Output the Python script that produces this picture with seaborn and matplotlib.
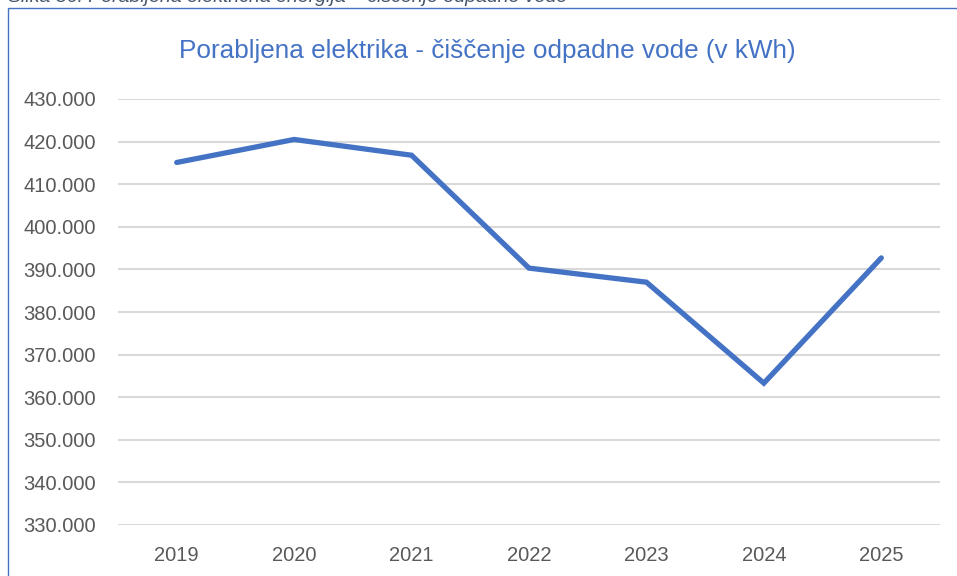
import pandas as pd
import seaborn as sns
import matplotlib.pyplot as plt
from matplotlib.patches import Rectangle
from matplotlib.ticker import FuncFormatter, MultipleLocator

sns.set_theme(style="white")
plt.rcParams['font.family'] = ['Liberation Sans', 'DejaVu Sans']

YEARS = ['2019', '2020', '2021', '2022', '2023', '2024', '2025']
ENERGY_KWH = [415100, 420500, 416800, 390300, 387000, 363300, 392700]

LINE_COLOR = '#4472C4'
TEXT_COLOR = '#595959'
GRID_COLOR = '#D9D9D9'

W, H = 957, 576
fig = plt.figure(figsize=(W / 100, H / 100), dpi=100)
ax = fig.add_axes([118 / W, 1 - 525 / H, (940 - 118) / W, (525 - 99) / H])

df = pd.DataFrame({'year': YEARS, 'kwh': ENERGY_KWH})
sns.lineplot(data=df, x='year', y='kwh', ax=ax, color=LINE_COLOR,
             linewidth=3.8, solid_capstyle='round', solid_joinstyle='miter')

ax.set_xlim(-0.5, len(YEARS) - 0.5)
ax.set_ylim(330000, 430000)
ax.yaxis.set_major_locator(MultipleLocator(10000))
ax.yaxis.set_major_formatter(FuncFormatter(lambda v, p: f"{v:,.0f}".replace(',', '.')))
ax.grid(axis='y', color=GRID_COLOR, linewidth=1.5)
ax.set_axisbelow(True)
for s in ax.spines.values():
    s.set_visible(False)
ax.tick_params(axis='y', length=0, pad=16, labelsize=14.5, labelcolor=TEXT_COLOR)
ax.tick_params(axis='x', length=0, pad=15, labelsize=14.5, labelcolor=TEXT_COLOR)
ax.set_xlabel('')
ax.set_ylabel('')

# chart title
fig.text(487 / W, 1 - 58 / H, 'Porabljena elektrika - čiščenje odpadne vode (v kWh)',
         ha='center', va='baseline', fontsize=18.8, color=LINE_COLOR)

# caption cut off at the top of the page
fig.text(8 / W, 1 - 2 / H, 'Slika 36: Porabljena električna energija – čiščenje odpadne vode',
         ha='left', va='baseline', fontsize=14, style='italic', color='#44546A')

# chart border
fig.patches.append(Rectangle((8 / W, -0.1), 1.2, 1 - 8 / H + 0.1, transform=fig.transFigure,
                             fill=False, edgecolor=LINE_COLOR, linewidth=1.0))

fig.savefig('out.png', dpi=100)
